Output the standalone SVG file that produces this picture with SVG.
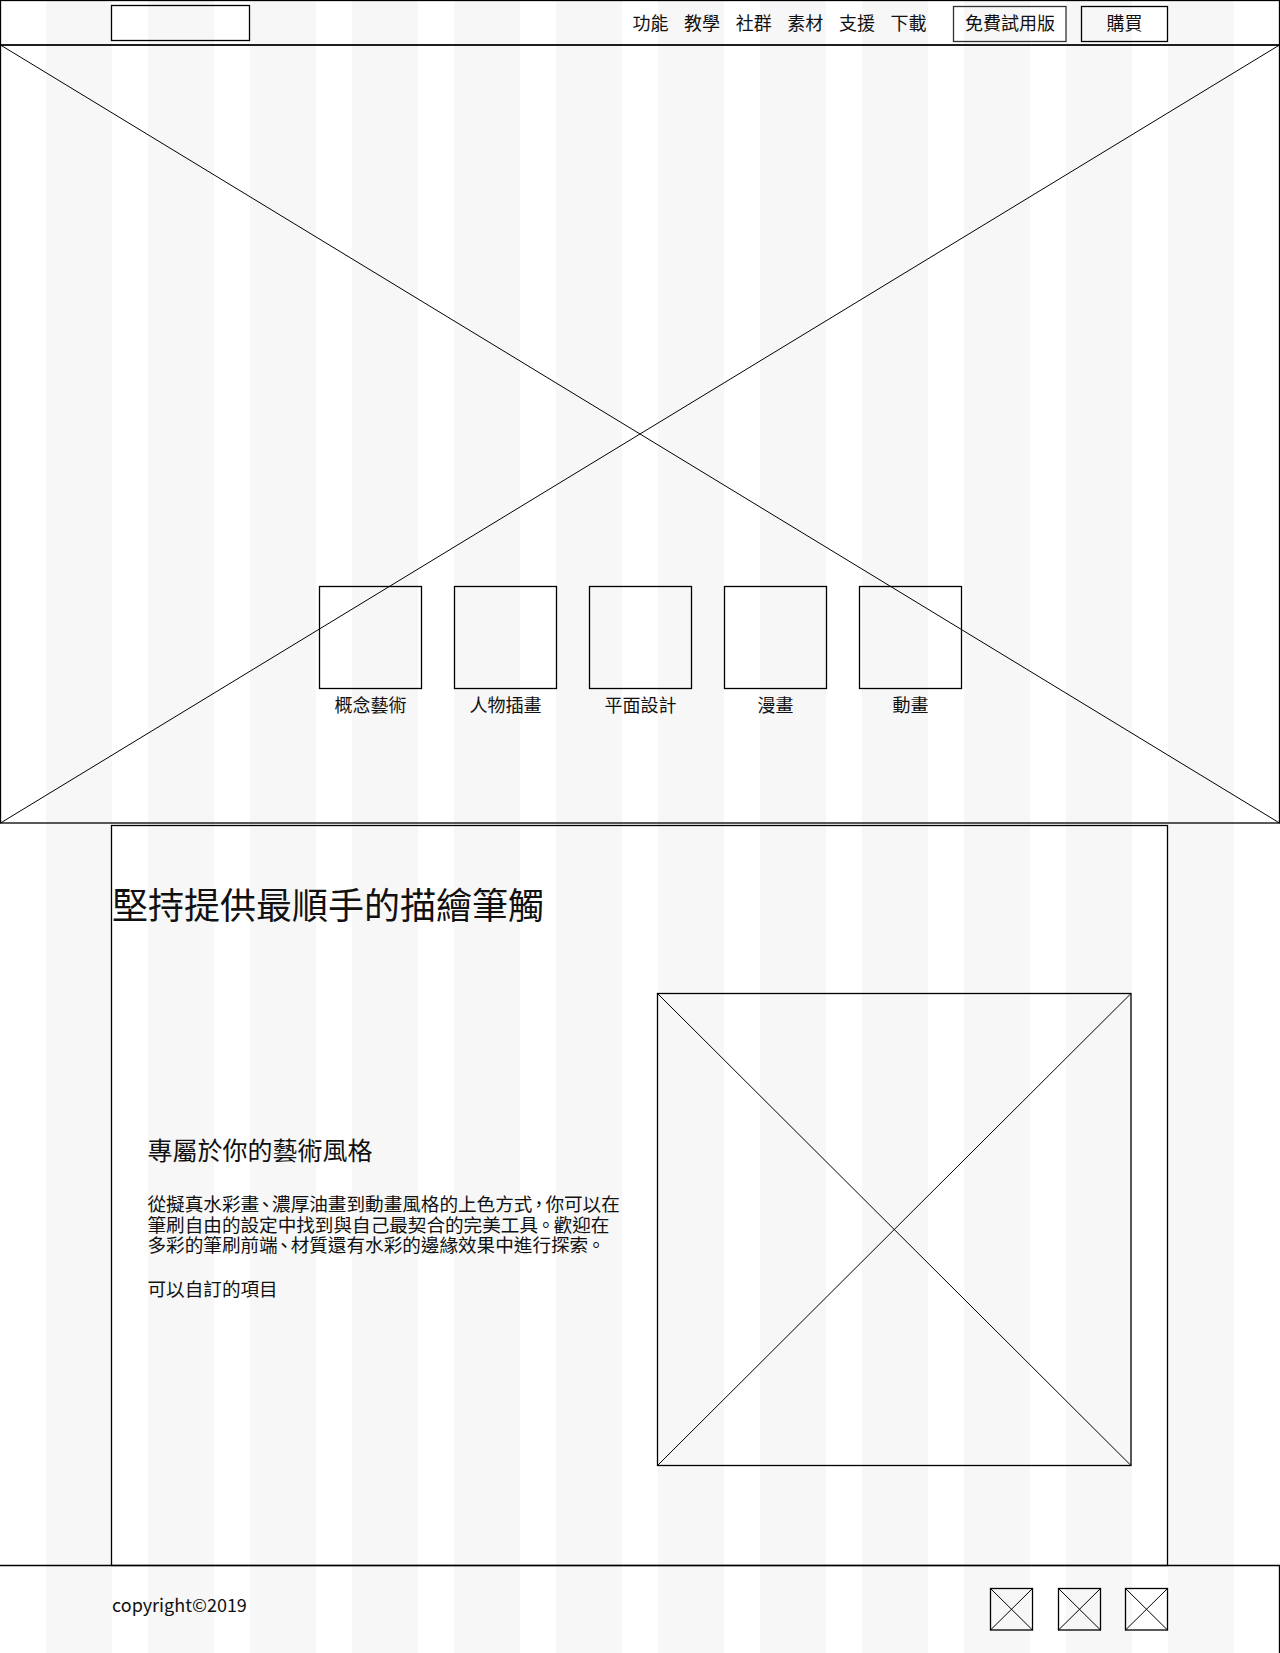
<svg xmlns="http://www.w3.org/2000/svg" width="1280" height="1653" viewBox="0 0 1280 1653">
<style>
.box{fill:none;stroke:#000;stroke-width:1.3}
.ln{stroke:#000;stroke-width:1}
.t{font-family:"Noto Sans CJK TC","Noto Sans",sans-serif;fill:#111}
.nav{font-size:18px}
.lab{font-size:18px;text-anchor:middle}
.p{font-size:18.6px}
</style>
<defs>
<pattern id="cols" x="46" y="0" width="102" height="1653" patternUnits="userSpaceOnUse">
<rect x="0" y="0" width="66" height="1653" fill="#f7f7f7"/>
</pattern>
</defs>
<rect x="0" y="0" width="1280" height="1653" fill="#fff"/>
<rect x="46" y="0" width="1188" height="1653" fill="url(#cols)"/>

<g id="header">
<rect class="box" x="0.5" y="0.5" width="1279" height="44.5"/>
<g id="logo"><rect class="box" x="111.5" y="5.5" width="138" height="35"/></g>
<g id="nav">
<text class="t nav" x="632.5" y="30">功能</text>
<text class="t nav" x="684.1" y="30">教學</text>
<text class="t nav" x="735.7" y="30">社群</text>
<text class="t nav" x="787.3" y="30">素材</text>
<text class="t nav" x="838.9" y="30">支援</text>
<text class="t nav" x="890.5" y="30">下載</text>
</g>
<g id="btn-trial">
<rect class="box" x="953.5" y="6.5" width="112.5" height="35" style="stroke:#333"/>
<text class="t lab" x="1010" y="30">免費試用版</text>
</g>
<g id="btn-buy">
<rect class="box" x="1081.5" y="6.5" width="86" height="35"/>
<text class="t lab" x="1124.5" y="30">購買</text>
</g>
</g>

<g id="hero">
<rect class="box" x="0.5" y="45" width="1279" height="778"/>
<line class="ln" x1="0.5" y1="45" x2="1279.5" y2="823"/>
<line class="ln" x1="1279.5" y1="45" x2="0.5" y2="823"/>
</g>

<g id="cat-concept"><rect class="box" x="319.5" y="586.5" width="102" height="102"/><text class="t lab" x="370.5" y="712">概念藝術</text></g>
<g id="cat-character"><rect class="box" x="454.5" y="586.5" width="102" height="102"/><text class="t lab" x="505.5" y="712">人物插畫</text></g>
<g id="cat-graphic"><rect class="box" x="589.5" y="586.5" width="102" height="102"/><text class="t lab" x="640.5" y="712">平面設計</text></g>
<g id="cat-comic"><rect class="box" x="724.5" y="586.5" width="102" height="102"/><text class="t lab" x="775.5" y="712">漫畫</text></g>
<g id="cat-anim"><rect class="box" x="859.5" y="586.5" width="102" height="102"/><text class="t lab" x="910.5" y="712">動畫</text></g>

<g id="content">
<rect class="box" x="111.5" y="825.5" width="1056" height="740"/>
<text class="t" x="112" y="919" style="font-size:36px">堅持提供最順手的描繪筆觸</text>
</g>

<g id="feature-text">
<text class="t" x="147.5" y="1159.5" style="font-size:25px">專屬於你的藝術風格</text>
<text class="t p" x="147.5" y="1211">從擬真水彩畫<tspan dx="-2.8">、</tspan><tspan dx="-2.8">濃厚油畫到動畫風格的上色方式</tspan><tspan dx="-2.8">，</tspan><tspan dx="-2.8">你可以在</tspan></text>
<text class="t p" x="147.5" y="1231.5">筆刷自由的設定中找到與自己最契合的完美工具<tspan dx="-1.5">。</tspan><tspan dx="-1.5">歡迎在</tspan></text>
<text class="t p" x="147.5" y="1252">多彩的筆刷前端<tspan dx="-2.8">、</tspan><tspan dx="-2.8">材質還有水彩的邊緣效果中進行探索</tspan><tspan dx="-1.5">。</tspan></text>
<text class="t p" x="147.5" y="1296">可以自訂的項目</text>
</g>

<g id="feature-image">
<rect class="box" x="657.5" y="993.5" width="473.5" height="472"/>
<line class="ln" x1="657.5" y1="993.5" x2="1131" y2="1465.5"/>
<line class="ln" x1="1131" y1="993.5" x2="657.5" y2="1465.5"/>
</g>

<g id="footer">
<path class="box" d="M0 1565.5 H1279.5 V1653"/>
<text class="t" x="112" y="1612" style="font-size:18px">copyright©2019</text>
</g>
<g id="social-1"><rect class="box" x="990.5" y="1588.5" width="42" height="41.5"/><line class="ln" x1="990.5" y1="1588.5" x2="1032.5" y2="1630"/><line class="ln" x1="1032.5" y1="1588.5" x2="990.5" y2="1630"/></g>
<g id="social-2"><rect class="box" x="1058.5" y="1588.5" width="42" height="41.5"/><line class="ln" x1="1058.5" y1="1588.5" x2="1100.5" y2="1630"/><line class="ln" x1="1100.5" y1="1588.5" x2="1058.5" y2="1630"/></g>
<g id="social-3"><rect class="box" x="1125.5" y="1588.5" width="42" height="41.5"/><line class="ln" x1="1125.5" y1="1588.5" x2="1167.5" y2="1630"/><line class="ln" x1="1167.5" y1="1588.5" x2="1125.5" y2="1630"/></g>

<g id="connectors"></g>
</svg>
